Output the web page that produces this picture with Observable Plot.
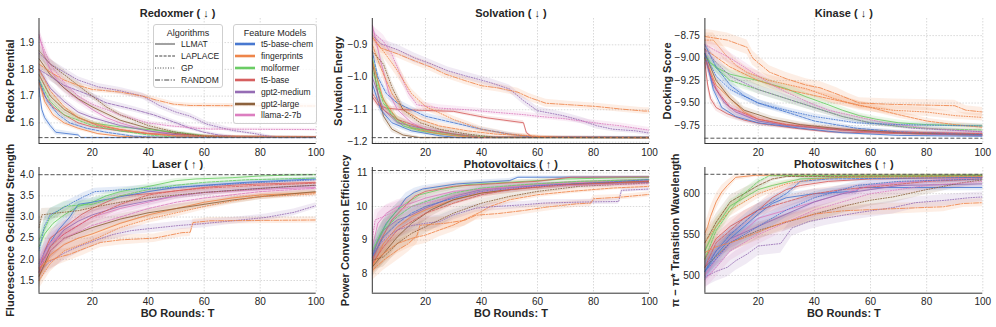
<!DOCTYPE html>
<html><head><meta charset="utf-8">
<script src="https://cdn.jsdelivr.net/npm/d3@7"></script>
<script src="https://cdn.jsdelivr.net/npm/@observablehq/plot@0.6"></script>
<style>
body{margin:0;background:#fff;}
#wrap{position:relative;width:996px;height:327px;overflow:hidden;font-family:"Liberation Sans",Arial,sans-serif;color:#262626;}
.leg{position:absolute;border:1px solid #cfcfcf;border-radius:3px;background:rgba(255,255,255,0.82);box-sizing:border-box;}
.leg .ttl{position:absolute;left:0;right:0;text-align:center;font-size:9px;line-height:10px;}
.leg .it{position:absolute;left:1px;height:10px;font-size:8.5px;line-height:10px;white-space:nowrap;}
.leg .it svg{position:absolute;left:0;top:2px;}
.leg .it span{position:absolute;left:26px;top:0;}
</style></head><body><div id="wrap"></div>
<script>
// ---------- categories ----------
const models = ["t5-base-chem","fingerprints","molformer","t5-base","gpt2-medium","gpt2-large","llama-2-7b"];
const algorithms = ["LLMAT","LAPLACE","GP","RANDOM"];
const xTicks = [20,40,60,80,100];
const panelTitles = ["Redoxmer ( ↓ )","Solvation ( ↓ )","Kinase ( ↓ )","Laser ( ↑ )","Photovoltaics ( ↑ )","Photoswitches ( ↑ )"];
const yLabels = ["Redox Potential","Solvation Energy","Docking Score","Fluorescence Oscillator Strength","Power Conversion Efficiency","π − π* Transition Wavelength"];
const xLabel = "BO Rounds: T";
const optima = [1.545,-1.186,-9.891,4.0,11.07,623.7];
const redoxTicks = [1.6,1.7,1.8,1.9];
const solvTicks = [-1.2,-1.1,-1.0,-0.9];
const kinaseTicks = [-9.75,-9.5,-9.25,-9.0,-8.75];
const laserTicks = [1.5,2.0,2.5,3.0,3.5,4.0];
const pvTicks = [8,9,10,11];
const psTicks = [500,550,600];

// ---------- series: [T, mean, spread] ----------
const redoxCurves = [
 {m:"fingerprints",a:"RANDOM",p:[[1,1.82,.015],[5,1.79,.015],[10,1.76,.012],[15,1.74,.01],[20,1.725,.01],[30,1.715,.01],[38,1.70,.01],[43,1.685,.01],[49,1.67,.008],[55,1.665,.008],[100,1.663,.008]]},
 {m:"gpt2-medium",a:"GP",p:[[1,1.86,.02],[5,1.82,.018],[10,1.79,.015],[15,1.76,.012],[22,1.735,.012],[30,1.72,.012],[38,1.70,.012],[44,1.665,.012],[50,1.64,.012],[55,1.625,.01],[61,1.595,.01],[70,1.572,.008],[78,1.56,.006],[83,1.55,.005],[86,1.545,.003],[100,1.545,.003]]},
 {m:"gpt2-medium",a:"LAPLACE",p:[[1,1.80,.02],[10,1.74,.015],[20,1.70,.012],[25,1.675,.012],[35,1.65,.01],[42,1.63,.01],[50,1.60,.008],[55,1.58,.008],[60,1.565,.006],[65,1.555,.005],[72,1.548,.003],[100,1.547,.003]]},
 {m:"llama-2-7b",a:"GP",p:[[1,1.92,.03],[5,1.82,.025],[10,1.75,.02],[15,1.70,.015],[20,1.67,.012],[25,1.65,.01],[30,1.63,.01],[35,1.615,.008],[40,1.60,.008],[47,1.59,.007],[55,1.582,.006],[62,1.577,.005],[100,1.575,.005]]},
 {m:"t5-base-chem",a:"LLMAT",p:[[1,1.73,.02],[2,1.65,.02],[3,1.62,.015],[5,1.59,.012],[7,1.565,.01],[15,1.555,.006],[16,1.545,.003],[100,1.545,.002]]},
 {m:"llama-2-7b",a:"LLMAT",p:[[1,1.93,.03],[3,1.85,.03],[5,1.80,.025],[8,1.75,.02],[12,1.71,.018],[16,1.68,.015],[20,1.65,.012],[25,1.62,.01],[30,1.60,.008],[35,1.585,.007],[40,1.57,.006],[50,1.56,.005],[60,1.552,.004],[70,1.548,.003],[100,1.547,.002]]},
 {m:"gpt2-large",a:"GP",p:[[1,1.87,.025],[5,1.82,.02],[10,1.78,.018],[15,1.74,.015],[20,1.70,.012],[25,1.66,.01],[30,1.63,.01],[35,1.61,.008],[40,1.59,.007],[50,1.565,.006],[60,1.55,.004],[70,1.546,.003],[100,1.546,.002]]},
 {m:"gpt2-large",a:"LLMAT",p:[[1,1.84,.025],[5,1.78,.02],[10,1.73,.015],[15,1.69,.012],[20,1.66,.01],[30,1.61,.008],[40,1.58,.006],[50,1.56,.005],[60,1.55,.004],[100,1.547,.002]]},
 {m:"molformer",a:"LLMAT",p:[[1,1.78,.02],[5,1.70,.015],[10,1.65,.012],[15,1.62,.01],[20,1.60,.008],[30,1.585,.007],[40,1.575,.006],[50,1.565,.005],[58,1.555,.004],[65,1.548,.003],[100,1.547,.002]]},
 {m:"molformer",a:"LAPLACE",p:[[1,1.76,.02],[5,1.68,.015],[10,1.63,.012],[20,1.59,.008],[30,1.57,.006],[40,1.555,.005],[48,1.548,.003],[100,1.546,.002]]},
 {m:"t5-base",a:"LLMAT",p:[[1,1.75,.02],[3,1.70,.018],[6,1.66,.015],[10,1.63,.012],[15,1.60,.01],[20,1.585,.008],[30,1.57,.006],[40,1.56,.005],[55,1.555,.004],[65,1.548,.003],[100,1.547,.002]]},
 {m:"t5-base",a:"LAPLACE",p:[[1,1.78,.02],[5,1.70,.015],[10,1.65,.012],[15,1.62,.01],[22,1.59,.008],[30,1.575,.006],[40,1.56,.005],[50,1.55,.004],[100,1.547,.002]]},
 {m:"fingerprints",a:"LLMAT",p:[[1,1.76,.02],[3,1.68,.015],[6,1.63,.012],[10,1.60,.01],[15,1.58,.008],[22,1.56,.006],[30,1.55,.004],[40,1.546,.003],[100,1.546,.002]]},
 {m:"fingerprints",a:"LAPLACE",p:[[1,1.80,.02],[5,1.72,.015],[10,1.66,.012],[15,1.62,.01],[20,1.60,.008],[30,1.575,.006],[40,1.56,.005],[50,1.552,.004],[100,1.548,.003]]},
 {m:"t5-base-chem",a:"LAPLACE",p:[[1,1.76,.02],[4,1.68,.015],[8,1.63,.012],[12,1.60,.01],[18,1.58,.008],[25,1.565,.006],[35,1.55,.004],[45,1.546,.003],[100,1.546,.002]]},
 {m:"gpt2-medium",a:"LLMAT",p:[[1,1.80,.02],[5,1.73,.015],[10,1.68,.012],[15,1.64,.01],[20,1.62,.008],[30,1.59,.007],[40,1.57,.006],[50,1.555,.004],[60,1.548,.003],[100,1.547,.002]]}
];
const solvCurves = [
 {m:"fingerprints",a:"RANDOM",p:[[1,-0.875,.015],[4,-0.91,.015],[10,-0.928,.013],[16,-0.949,.013],[22,-0.969,.013],[27,-0.99,.012],[34,-1.01,.012],[40,-1.026,.012],[46,-1.033,.012],[53,-1.046,.012],[57,-1.062,.012],[63,-1.08,.012],[72,-1.085,.01],[81,-1.09,.01],[90,-1.098,.01],[98,-1.104,.01],[100,-1.104,.01]]},
 {m:"gpt2-medium",a:"GP",p:[[1,-0.87,.02],[4,-0.897,.015],[10,-0.915,.015],[16,-0.94,.015],[22,-0.959,.012],[28,-0.98,.012],[34,-0.995,.012],[43,-1.016,.012],[50,-1.036,.012],[55,-1.072,.012],[60,-1.103,.012],[69,-1.118,.01],[76,-1.134,.01],[81,-1.149,.01],[87,-1.16,.008],[95,-1.165,.008],[100,-1.172,.008]]},
 {m:"llama-2-7b",a:"GP",p:[[1,-0.86,.02],[5,-0.89,.02],[8,-0.93,.02],[11,-0.99,.018],[14,-1.05,.015],[17,-1.085,.012],[25,-1.095,.01],[35,-1.10,.008],[45,-1.108,.008],[55,-1.115,.008],[60,-1.12,.008],[70,-1.128,.008],[80,-1.14,.008],[90,-1.15,.008],[100,-1.163,.008]]},
 {m:"t5-base",a:"LLMAT",p:[[1,-1.06,.01],[3,-1.085,.01],[6,-1.095,.008],[12,-1.10,.006],[30,-1.105,.006],[36,-1.115,.006],[42,-1.125,.006],[48,-1.132,.006],[55,-1.14,.006],[56,-1.17,.005],[58,-1.184,.003],[100,-1.186,.003]]},
 {m:"t5-base-chem",a:"LAPLACE",p:[[1,-0.92,.02],[3,-1.0,.02],[6,-1.05,.015],[10,-1.08,.012],[15,-1.10,.01],[20,-1.12,.01],[30,-1.14,.008],[40,-1.16,.006],[50,-1.175,.005],[58,-1.184,.003],[100,-1.185,.003]]},
 {m:"gpt2-large",a:"LLMAT",p:[[1,-0.95,.02],[3,-1.05,.02],[5,-1.12,.015],[8,-1.16,.01],[12,-1.178,.006],[18,-1.186,.003],[100,-1.186,.002]]},
 {m:"molformer",a:"LLMAT",p:[[1,-0.94,.02],[4,-1.05,.018],[8,-1.12,.012],[12,-1.15,.01],[18,-1.165,.008],[25,-1.175,.006],[32,-1.18,.004],[40,-1.185,.003],[100,-1.186,.002]]},
 {m:"fingerprints",a:"LAPLACE",p:[[1,-0.90,.02],[4,-0.97,.02],[8,-1.05,.018],[12,-1.10,.015],[18,-1.13,.012],[25,-1.15,.01],[35,-1.165,.008],[45,-1.175,.006],[60,-1.182,.004],[70,-1.186,.003],[100,-1.186,.002]]},
 {m:"gpt2-large",a:"GP",p:[[1,-0.92,.02],[5,-0.96,.02],[8,-1.03,.018],[12,-1.10,.015],[18,-1.14,.01],[25,-1.16,.008],[35,-1.175,.006],[45,-1.185,.003],[100,-1.186,.002]]},
 {m:"molformer",a:"LAPLACE",p:[[1,-0.98,.02],[5,-1.08,.015],[10,-1.13,.012],[15,-1.155,.01],[25,-1.17,.008],[35,-1.18,.005],[45,-1.186,.003],[100,-1.186,.002]]},
 {m:"llama-2-7b",a:"LLMAT",p:[[1,-0.84,.02],[4,-0.95,.02],[7,-1.05,.018],[10,-1.10,.015],[15,-1.14,.01],[20,-1.16,.008],[30,-1.175,.006],[40,-1.185,.003],[100,-1.186,.002]]},
 {m:"gpt2-medium",a:"LLMAT",p:[[1,-1.00,.02],[5,-1.10,.015],[10,-1.14,.01],[20,-1.16,.008],[30,-1.175,.006],[40,-1.185,.003],[100,-1.186,.002]]},
 {m:"t5-base-chem",a:"LLMAT",p:[[1,-1.02,.02],[4,-1.10,.015],[8,-1.14,.01],[15,-1.165,.008],[25,-1.18,.005],[32,-1.186,.003],[100,-1.186,.002]]},
 {m:"fingerprints",a:"LLMAT",p:[[1,-0.95,.02],[5,-1.07,.018],[10,-1.13,.012],[15,-1.155,.01],[22,-1.17,.007],[30,-1.18,.005],[38,-1.186,.003],[100,-1.186,.002]]},
 {m:"t5-base",a:"LAPLACE",p:[[1,-1.05,.015],[5,-1.10,.012],[10,-1.13,.01],[20,-1.16,.008],[30,-1.175,.006],[40,-1.185,.003],[100,-1.186,.002]]},
 {m:"fingerprints",a:"GP",p:[[1,-0.88,.02],[5,-0.92,.02],[10,-0.98,.02],[15,-1.05,.015],[20,-1.09,.012],[30,-1.13,.01],[40,-1.16,.008],[50,-1.175,.006],[62,-1.184,.004],[100,-1.186,.003]]}
];
const kinaseCurves = [
 {m:"fingerprints",a:"RANDOM",p:[[1,-8.76,.08],[5,-8.78,.08],[9,-8.80,.08],[16,-8.88,.08],[18,-9.0,.08],[24,-9.156,.07],[30,-9.23,.07],[37,-9.30,.07],[42,-9.33,.07],[48,-9.40,.07],[52,-9.45,.06],[56,-9.50,.06],[68,-9.515,.06],[90,-9.53,.06],[94,-9.58,.05],[100,-9.60,.05]]},
 {m:"fingerprints",a:"GP",p:[[1,-8.80,.08],[4,-8.80,.08],[8,-8.95,.07],[12,-9.08,.07],[16,-9.16,.06],[24,-9.25,.06],[37,-9.34,.06],[47,-9.45,.06],[56,-9.53,.05],[68,-9.58,.05],[80,-9.60,.05],[90,-9.64,.04],[100,-9.66,.04]]},
 {m:"fingerprints",a:"LAPLACE",p:[[1,-8.90,.07],[10,-9.10,.06],[20,-9.25,.06],[30,-9.35,.05],[45,-9.45,.05],[60,-9.55,.04],[70,-9.63,.04],[80,-9.70,.03],[90,-9.74,.03],[100,-9.77,.03]]},
 {m:"llama-2-7b",a:"GP",p:[[1,-8.85,.07],[5,-8.92,.07],[10,-9.0,.06],[15,-9.1,.06],[20,-9.2,.05],[25,-9.3,.05],[30,-9.38,.05],[35,-9.45,.04],[40,-9.52,.04],[45,-9.58,.04],[55,-9.65,.03],[65,-9.72,.03],[80,-9.78,.02],[100,-9.82,.02]]},
 {m:"molformer",a:"LLMAT",p:[[1,-8.95,.06],[3,-9.05,.06],[6,-9.12,.06],[10,-9.18,.05],[20,-9.25,.05],[30,-9.34,.05],[37,-9.43,.05],[45,-9.52,.04],[50,-9.58,.04],[56,-9.64,.03],[62,-9.68,.03],[70,-9.72,.03],[80,-9.74,.02],[100,-9.755,.02]]},
 {m:"molformer",a:"LAPLACE",p:[[1,-9.0,.06],[10,-9.25,.05],[20,-9.35,.05],[30,-9.45,.05],[40,-9.55,.04],[50,-9.65,.03],[60,-9.72,.03],[70,-9.76,.02],[85,-9.79,.02],[100,-9.80,.02]]},
 {m:"gpt2-medium",a:"GP",p:[[1,-8.9,.06],[5,-9.05,.06],[10,-9.2,.05],[20,-9.35,.05],[30,-9.45,.04],[40,-9.55,.04],[50,-9.65,.03],[60,-9.72,.03],[75,-9.78,.02],[100,-9.82,.02]]},
 {m:"t5-base-chem",a:"LAPLACE",p:[[1,-8.85,.06],[5,-9.1,.05],[10,-9.3,.05],[15,-9.42,.04],[20,-9.5,.04],[30,-9.6,.03],[40,-9.7,.03],[55,-9.78,.02],[70,-9.82,.02],[100,-9.85,.02]]},
 {m:"t5-base-chem",a:"GP",p:[[1,-8.95,.06],[5,-9.2,.05],[10,-9.35,.05],[20,-9.5,.04],[30,-9.58,.03],[40,-9.65,.03],[55,-9.72,.02],[70,-9.74,.02],[100,-9.755,.02]]},
 {m:"t5-base",a:"LLMAT",p:[[1,-9.05,.06],[2,-9.3,.06],[3,-9.45,.05],[5,-9.55,.04],[9,-9.62,.04],[15,-9.69,.03],[21,-9.73,.03],[33,-9.78,.02],[45,-9.82,.02],[70,-9.84,.02],[100,-9.86,.015]]},
 {m:"llama-2-7b",a:"LLMAT",p:[[1,-8.9,.07],[3,-9.2,.06],[6,-9.4,.05],[10,-9.55,.04],[15,-9.63,.04],[20,-9.68,.03],[30,-9.74,.03],[45,-9.78,.02],[60,-9.82,.02],[100,-9.84,.015]]},
 {m:"fingerprints",a:"LLMAT",p:[[1,-9.0,.06],[5,-9.3,.05],[10,-9.45,.05],[15,-9.6,.04],[20,-9.68,.03],[30,-9.74,.03],[50,-9.8,.02],[70,-9.83,.02],[100,-9.85,.015]]},
 {m:"gpt2-medium",a:"LLMAT",p:[[1,-9.0,.06],[4,-9.3,.05],[8,-9.5,.04],[12,-9.6,.04],[20,-9.7,.03],[30,-9.75,.02],[50,-9.8,.02],[75,-9.84,.015],[100,-9.86,.015]]},
 {m:"gpt2-large",a:"LLMAT",p:[[1,-8.95,.06],[5,-9.25,.05],[10,-9.45,.05],[15,-9.58,.04],[25,-9.68,.03],[35,-9.74,.03],[50,-9.79,.02],[70,-9.83,.02],[100,-9.85,.015]]},
 {m:"t5-base-chem",a:"LLMAT",p:[[1,-8.95,.06],[4,-9.35,.05],[7,-9.55,.04],[12,-9.65,.03],[20,-9.72,.03],[35,-9.78,.02],[50,-9.83,.02],[70,-9.86,.015],[100,-9.87,.01]]},
 {m:"t5-base",a:"LAPLACE",p:[[1,-9.0,.06],[5,-9.35,.05],[10,-9.55,.04],[20,-9.68,.03],[30,-9.74,.02],[45,-9.79,.02],[60,-9.82,.02],[100,-9.84,.015]]}
];
const laserCurves = [
 {m:"fingerprints",a:"RANDOM",p:[[1,1.80,.2],[4,1.95,.2],[8,2.05,.18],[12,2.12,.15],[17,2.25,.15],[23,2.40,.12],[30,2.46,.12],[42,2.50,.1],[46,2.55,.1],[52,2.63,.1],[55,2.64,.1],[56,2.87,.08],[62,2.91,.08],[100,2.93,.07]]},
 {m:"gpt2-medium",a:"GP",p:[[1,1.70,.2],[5,1.95,.2],[10,2.15,.18],[15,2.30,.15],[20,2.42,.12],[27,2.58,.12],[34,2.68,.1],[41,2.73,.1],[51,2.80,.1],[59,2.84,.1],[70,2.91,.08],[82,2.99,.08],[92,3.11,.08],[100,3.27,.07]]},
 {m:"gpt2-large",a:"GP",p:[[1,2.75,.2],[2,3.05,.15],[8,3.10,.12],[15,3.15,.12],[22,3.25,.1],[30,3.35,.1],[40,3.45,.08],[50,3.52,.08],[60,3.58,.07],[75,3.65,.06],[90,3.72,.05],[100,3.75,.05]]},
 {m:"t5-base-chem",a:"GP",p:[[1,2.2,.25],[3,2.8,.2],[5,3.05,.15],[10,3.23,.12],[14,3.38,.1],[17,3.48,.1],[21,3.60,.08],[30,3.64,.07],[37,3.67,.07],[50,3.70,.06],[60,3.74,.06],[75,3.80,.05],[90,3.85,.05],[100,3.88,.04]]},
 {m:"molformer",a:"LLMAT",p:[[1,2.3,.25],[3,2.6,.2],[6,2.85,.15],[10,3.05,.12],[15,3.25,.1],[20,3.35,.1],[25,3.50,.08],[30,3.60,.07],[40,3.72,.06],[50,3.86,.05],[57,3.90,.04],[70,3.93,.04],[80,3.97,.03],[90,3.99,.03],[100,4.0,.02]]},
 {m:"molformer",a:"LAPLACE",p:[[1,2.45,.25],[5,3.0,.2],[10,3.25,.12],[15,3.28,.1],[20,3.3,.1],[30,3.5,.08],[40,3.65,.07],[50,3.75,.06],[60,3.82,.05],[75,3.88,.04],[100,3.92,.03]]},
 {m:"t5-base",a:"LLMAT",p:[[1,1.7,.25],[3,2.2,.25],[5,2.5,.2],[8,2.65,.18],[12,2.85,.15],[16,3.05,.12],[20,3.20,.1],[25,3.35,.1],[30,3.50,.08],[40,3.55,.07],[50,3.62,.06],[60,3.70,.06],[70,3.75,.05],[80,3.78,.05],[100,3.82,.04]]},
 {m:"t5-base-chem",a:"LLMAT",p:[[1,1.9,.25],[4,2.3,.22],[8,2.7,.2],[12,3.0,.15],[15,3.3,.12],[20,3.35,.1],[30,3.48,.08],[40,3.60,.07],[50,3.70,.06],[60,3.75,.05],[75,3.82,.05],[90,3.87,.04],[100,3.90,.04]]},
 {m:"gpt2-medium",a:"LLMAT",p:[[1,1.8,.25],[5,2.3,.22],[10,2.7,.2],[15,2.9,.15],[20,3.05,.12],[30,3.25,.1],[40,3.38,.1],[50,3.50,.08],[60,3.58,.07],[70,3.63,.06],[80,3.68,.06],[100,3.75,.05]]},
 {m:"llama-2-7b",a:"LLMAT",p:[[1,1.9,.25],[5,2.4,.22],[10,2.6,.2],[15,2.8,.18],[20,3.0,.15],[30,3.2,.12],[40,3.35,.1],[50,3.50,.08],[60,3.58,.07],[80,3.65,.06],[100,3.70,.05]]},
 {m:"fingerprints",a:"LLMAT",p:[[1,1.6,.2],[5,2.1,.2],[10,2.35,.18],[15,2.5,.15],[20,2.6,.15],[30,2.85,.12],[40,3.05,.1],[50,3.2,.1],[60,3.35,.08],[70,3.45,.08],[80,3.52,.07],[100,3.58,.06]]},
 {m:"fingerprints",a:"GP",p:[[1,1.5,.2],[5,1.9,.2],[10,2.2,.18],[20,2.45,.15],[30,2.75,.12],[40,2.95,.1],[50,3.1,.1],[60,3.25,.08],[70,3.38,.08],[80,3.48,.07],[100,3.55,.06]]},
 {m:"gpt2-large",a:"LLMAT",p:[[1,1.6,.25],[5,2.2,.2],[10,2.5,.18],[20,2.75,.15],[30,2.95,.12],[40,3.1,.1],[50,3.2,.1],[60,3.3,.08],[70,3.4,.08],[80,3.48,.07],[100,3.6,.06]]},
 {m:"t5-base",a:"LAPLACE",p:[[1,1.7,.25],[5,2.3,.2],[10,2.6,.18],[20,3.0,.15],[30,3.3,.12],[40,3.52,.1],[50,3.62,.08],[60,3.68,.07],[80,3.75,.06],[100,3.80,.05]]},
 {m:"llama-2-7b",a:"LAPLACE",p:[[1,1.8,.25],[5,2.2,.2],[10,2.5,.2],[20,2.8,.15],[30,3.0,.12],[40,3.2,.1],[50,3.35,.1],[60,3.45,.08],[80,3.6,.07],[100,3.68,.06]]}
];
const pvCurves = [
 {m:"fingerprints",a:"RANDOM",p:[[1,8.1,.3],[5,8.4,.3],[10,8.7,.3],[14,8.9,.25],[17,9.14,.25],[18,9.44,.2],[27,9.50,.2],[34,9.59,.18],[38,9.74,.15],[46,9.79,.15],[55,9.88,.12],[63,9.98,.12],[74,10.08,.1],[79,10.1,.1],[80,10.23,.1],[90,10.28,.08],[100,10.36,.08]]},
 {m:"gpt2-medium",a:"GP",p:[[1,8.5,.3],[4,8.9,.3],[7,9.14,.25],[10,9.3,.25],[15,9.43,.2],[20,9.5,.2],[25,9.55,.18],[30,9.75,.15],[38,9.95,.12],[45,10.0,.12],[55,10.05,.1],[62,10.1,.1],[75,10.13,.08],[89,10.15,.08],[90,10.48,.06],[100,10.52,.06]]},
 {m:"fingerprints",a:"LAPLACE",p:[[1,8.3,.3],[5,8.6,.3],[10,8.9,.3],[15,9.05,.25],[20,9.15,.25],[25,9.3,.2],[30,9.45,.2],[35,9.65,.18],[40,9.85,.15],[43,10.0,.12],[50,10.2,.1],[60,10.35,.08],[72,10.45,.07],[87,10.55,.06],[100,10.6,.05]]},
 {m:"gpt2-large",a:"GP",p:[[1,8.4,.3],[5,8.5,.3],[10,8.9,.25],[15,9.2,.25],[20,9.4,.2],[30,9.8,.15],[40,10.1,.12],[50,10.3,.1],[60,10.45,.08],[75,10.6,.06],[100,10.7,.05]]},
 {m:"t5-base-chem",a:"LLMAT",p:[[1,8.5,.3],[3,9.0,.3],[6,9.5,.25],[10,9.9,.2],[13,10.25,.15],[16,10.42,.12],[19,10.52,.1],[31,10.67,.08],[50,10.77,.06],[53,10.87,.04],[100,10.88,.03]]},
 {m:"molformer",a:"LLMAT",p:[[1,8.6,.3],[4,9.2,.3],[7,9.6,.25],[10,9.9,.2],[14,10.15,.15],[18,10.35,.12],[25,10.5,.1],[35,10.65,.08],[50,10.72,.06],[70,10.82,.05],[100,10.87,.04]]},
 {m:"t5-base",a:"LLMAT",p:[[1,8.4,.3],[4,9.0,.3],[8,9.6,.25],[12,9.95,.2],[16,10.3,.15],[20,10.45,.12],[30,10.6,.1],[45,10.68,.08],[60,10.75,.06],[72,10.87,.04],[100,10.88,.03]]},
 {m:"molformer",a:"LAPLACE",p:[[1,8.7,.3],[5,9.3,.3],[10,9.7,.25],[15,10.0,.2],[22,10.2,.15],[30,10.4,.12],[40,10.55,.1],[55,10.65,.08],[75,10.75,.06],[100,10.8,.05]]},
 {m:"gpt2-medium",a:"LLMAT",p:[[1,8.6,.3],[5,9.3,.3],[10,9.6,.25],[15,9.75,.2],[20,9.95,.18],[30,10.3,.15],[40,10.5,.12],[55,10.6,.1],[70,10.65,.08],[100,10.72,.06]]},
 {m:"llama-2-7b",a:"LLMAT",p:[[1,8.8,.35],[3,9.5,.3],[6,9.8,.25],[10,10.0,.2],[15,10.1,.18],[20,10.25,.15],[30,10.45,.12],[45,10.55,.1],[60,10.65,.08],[80,10.72,.06],[100,10.78,.05]]},
 {m:"fingerprints",a:"LLMAT",p:[[1,8.2,.3],[5,8.9,.3],[10,9.4,.25],[15,9.7,.2],[20,9.9,.18],[30,10.2,.15],[40,10.4,.12],[55,10.55,.1],[70,10.65,.08],[100,10.75,.06]]},
 {m:"t5-base-chem",a:"LAPLACE",p:[[1,8.5,.3],[5,9.1,.3],[10,9.5,.25],[15,9.8,.2],[20,10.0,.18],[30,10.25,.15],[40,10.45,.12],[60,10.62,.08],[80,10.7,.06],[100,10.8,.05]]},
 {m:"t5-base",a:"LAPLACE",p:[[1,8.3,.3],[5,8.8,.3],[10,9.3,.25],[20,9.8,.2],[30,10.1,.15],[40,10.35,.12],[50,10.5,.1],[70,10.65,.08],[100,10.75,.06]]},
 {m:"gpt2-large",a:"LLMAT",p:[[1,8.2,.3],[5,8.6,.3],[10,9.1,.25],[15,9.5,.25],[22,9.9,.2],[30,10.2,.15],[40,10.4,.12],[55,10.55,.1],[75,10.68,.08],[100,10.75,.06]]},
 {m:"llama-2-7b",a:"GP",p:[[1,9.0,.35],[2,9.6,.3],[5,9.7,.3],[10,9.9,.25],[20,10.1,.2],[30,10.3,.15],[45,10.5,.12],[60,10.6,.1],[100,10.68,.08]]}
];
const psCurves = [
 {m:"fingerprints",a:"LLMAT",p:[[1,552,12],[2,560,12],[3,572,12],[5,590,10],[7,602,8],[9,610,6],[12,620,4],[19,622.5,2],[100,622.8,1]]},
 {m:"fingerprints",a:"RANDOM",p:[[1,528,12],[5,535,12],[10,540,10],[15,546,10],[20,553,10],[25,560,9],[30,566,9],[35,570,8],[40,575,8],[50,579,7],[60,580.5,7],[86,584,6],[93,588,5],[100,589,5]]},
 {m:"gpt2-medium",a:"GP",p:[[1,498,12],[5,505,12],[9,510,12],[12,518,12],[16,526,12],[20,536,12],[28,539,12],[32,558,10],[38,566,10],[44,570,9],[56,577,8],[68,583,8],[76,589,7],[87,592,7],[95,595,6],[100,596,6]]},
 {m:"gpt2-large",a:"GP",p:[[1,510,12],[10,540,12],[20,555,10],[30,565,10],[40,575,9],[52,586,8],[60,592,7],[68,596,7],[80,605,6],[92,613,5],[100,617,5]]},
 {m:"gpt2-large",a:"LAPLACE",p:[[1,540,12],[5,565,10],[10,590,8],[15,600,7],[20,610,5],[25,618,3],[30,621,2],[100,622,1]]},
 {m:"molformer",a:"LAPLACE",p:[[1,520,12],[5,555,10],[10,580,8],[15,600,6],[20,615,4],[24,622,2],[100,623,1]]},
 {m:"t5-base-chem",a:"LLMAT",p:[[1,505,12],[5,525,12],[10,545,10],[15,560,10],[20,575,8],[25,588,7],[30,595,6],[40,600,5],[50,602,5],[55,603,4],[56,607.5,4],[100,607.5,4]]},
 {m:"llama-2-7b",a:"LLMAT",p:[[1,500,12],[5,520,12],[10,540,12],[15,555,10],[20,570,10],[30,580,9],[40,590,8],[50,600,7],[60,610,6],[75,615,5],[100,620,3]]},
 {m:"llama-2-7b",a:"GP",p:[[1,495,12],[5,510,12],[10,530,12],[20,550,12],[30,565,10],[40,580,9],[50,590,8],[60,600,7],[80,610,6],[100,615,5]]},
 {m:"t5-base",a:"LLMAT",p:[[1,520,12],[5,545,10],[10,560,10],[20,580,8],[25,595,7],[30,605,5],[35,610,4],[45,615,3],[60,618,2],[100,620,2]]},
 {m:"t5-base",a:"LAPLACE",p:[[1,510,12],[5,540,10],[10,555,10],[15,570,9],[20,580,8],[30,590,7],[40,600,6],[50,605,5],[60,608,4],[80,615,3],[100,618,2]]},
 {m:"molformer",a:"LLMAT",p:[[1,530,12],[5,560,10],[10,585,8],[15,595,7],[20,605,5],[25,610,4],[35,618,2],[50,620,2],[100,622,1]]},
 {m:"t5-base-chem",a:"LAPLACE",p:[[1,505,12],[5,530,12],[10,550,10],[15,565,9],[20,580,8],[30,600,6],[35,615,4],[45,618,3],[100,620,2]]},
 {m:"gpt2-medium",a:"LLMAT",p:[[1,510,12],[5,530,12],[10,545,12],[20,560,10],[30,575,9],[40,590,8],[50,600,7],[60,605,6],[70,610,5],[100,612,5]]},
 {m:"fingerprints",a:"GP",p:[[1,540,12],[5,560,10],[10,580,8],[20,600,6],[30,612,4],[40,618,3],[50,620,2],[100,621,1]]},
 {m:"t5-base-chem",a:"GP",p:[[1,505,12],[5,520,12],[10,540,12],[20,560,10],[30,580,9],[40,595,7],[55,610,5],[70,615,4],[100,618,3]]}
];

// ---------- styles ----------
const modelColors = ["#4878d0","#ee854a","#6acc64","#d65f5f","#956cb4","#8c613c","#dc7ec0"];
const algoDash = [null,"3,1.3","1,1.6","5,1.5,1.2,1.5"];
const FONT = '"Liberation Sans", Arial, sans-serif';

const panels = [
 {curves:redoxCurves, ticks:redoxTicks, fmt:".1f", dom:[1.523,1.99], left:0, top:0, w:330, h:160, ml:38.5, mr:14.3, mt:18, mb:17, titleDy:-9, ylabOff:29, xlab:false},
 {curves:solvCurves, ticks:solvTicks, fmt:".1f", dom:[-1.204,-0.819], left:330, top:0, w:330, h:160, ml:41.8, mr:11, mt:18, mb:17, titleDy:-9, ylabOff:33.5, xlab:false},
 {curves:kinaseCurves, ticks:kinaseTicks, fmt:".2f", dom:[-9.95,-8.56], left:660, top:0, w:336, h:160, ml:44.4, mr:13.7, mt:18, mb:17, titleDy:-9, ylabOff:37.5, xlab:false},
 {curves:laserCurves, ticks:laserTicks, fmt:".1f", dom:[1.2,4.17], left:0, top:145, w:330, h:182, ml:38.5, mr:14.3, mt:22, mb:34.3, titleDy:-7, ylabOff:28.5, xlab:true},
 {curves:pvCurves, ticks:pvTicks, fmt:"d", dom:[7.42,11.16], left:330, top:145, w:330, h:182, ml:41.8, mr:11, mt:22, mb:34.3, titleDy:-7, ylabOff:27, xlab:true},
 {curves:psCurves, ticks:psTicks, fmt:"d", dom:[478.3,632], left:660, top:145, w:336, h:182, ml:44.4, mr:13.7, mt:22, mb:34.3, titleDy:-7, ylabOff:29.5, xlab:true}
];

const wrap = document.getElementById("wrap");
panels.forEach((cfg, pi) => {
  const rows = [];
  cfg.curves.forEach((c, i) => c.p.forEach(([T, y, s]) => rows.push({T, y, lo: y - s, hi: y + s, key: i, model: c.m, algo: c.a})));
  const marks = [
    Plot.gridX(xTicks, {stroke:"#cfcfcf", strokeOpacity:1, strokeWidth:0.8, strokeDasharray:"1.5,1.5"}),
    Plot.gridY(cfg.ticks, {stroke:"#cfcfcf", strokeOpacity:1, strokeWidth:0.8, strokeDasharray:"1.5,1.5"}),
    Plot.areaY(rows, {x:"T", y1:"lo", y2:"hi", z:"key", fill:"model", fillOpacity:0.14, curve:"linear", clip:true}),
    ...algorithms.map((a, k) => Plot.line(rows.filter(r => r.algo === a), {x:"T", y:"y", z:"key", stroke:"model", strokeWidth:1, strokeOpacity:0.85, strokeDasharray: algoDash[k] || undefined, curve:"linear", clip:true})),
    Plot.ruleY([optima[pi]], {stroke:"#555", strokeWidth:1, strokeDasharray:"4,2"}),
    Plot.ruleX([1], {stroke:"#333", strokeWidth:1}),
    Plot.ruleY([cfg.dom[0]], {stroke:"#333", strokeWidth:1}),
    Plot.axisX(xTicks, {tickSize:0, tickPadding:5, label:null, fontSize:10, tickFormat:"d"}),
    Plot.axisY(cfg.ticks, {tickSize:0, tickPadding:5, label:null, fontSize:10, tickFormat:cfg.fmt}),
    Plot.text([panelTitles[pi]], {text:d=>d, frameAnchor:"top", dy:cfg.titleDy, fontWeight:"bold", fontSize:11, fill:"#262626"}),
    Plot.text([yLabels[pi]], {text:d=>d, frameAnchor:"left", textAnchor:"middle", rotate:-90, dx:-cfg.ylabOff, fontWeight:"bold", fontSize:11, fill:"#262626"})
  ];
  if (cfg.xlab) marks.push(Plot.text([xLabel], {text:d=>d, frameAnchor:"bottom", dy:24, fontWeight:"bold", fontSize:11, fill:"#262626"}));
  const svg = Plot.plot({
    width: cfg.w, height: cfg.h,
    marginLeft: cfg.ml, marginRight: cfg.mr, marginTop: cfg.mt, marginBottom: cfg.mb,
    x: {domain:[1,100]},
    y: {domain: cfg.dom},
    color: {domain: models, range: modelColors},
    style: {position:"absolute", left: cfg.left+"px", top: cfg.top+"px", background:"none", overflow:"visible", fontFamily: FONT, fontSize:"10px", color:"#262626"},
    marks
  });
  wrap.appendChild(svg);
});

// ---------- legends ----------
function legendBox(left, top, width, height, title, items) {
  const box = document.createElement("div");
  box.className = "leg";
  Object.assign(box.style, {left:left+"px", top:top+"px", width:width+"px", height:height+"px"});
  const t = document.createElement("div");
  t.className = "ttl"; t.style.top = "3px"; t.textContent = title;
  box.appendChild(t);
  items.forEach((it, i) => {
    const d = document.createElement("div");
    d.className = "it"; d.style.top = (14 + i * 11.9) + "px"; d.style.width = (width - 2) + "px";
    d.innerHTML = `<svg width="21" height="6"><line x1="0" y1="3" x2="20" y2="3" stroke="${it.color}" stroke-width="${it.w}" ${it.dash ? `stroke-dasharray="${it.dash}"` : ""}/></svg><span>${it.label}</span>`;
    box.appendChild(d);
  });
  wrap.appendChild(box);
}
legendBox(153, 24, 70, 64, "Algorithms", algorithms.map((a, k) => ({label:a, color:"#444", w:1, dash:algoDash[k]})));
legendBox(233, 24, 84, 100, "Feature Models", models.map((m, k) => ({label:m, color:modelColors[k], w:2.6, dash:null})));
</script></body></html>
